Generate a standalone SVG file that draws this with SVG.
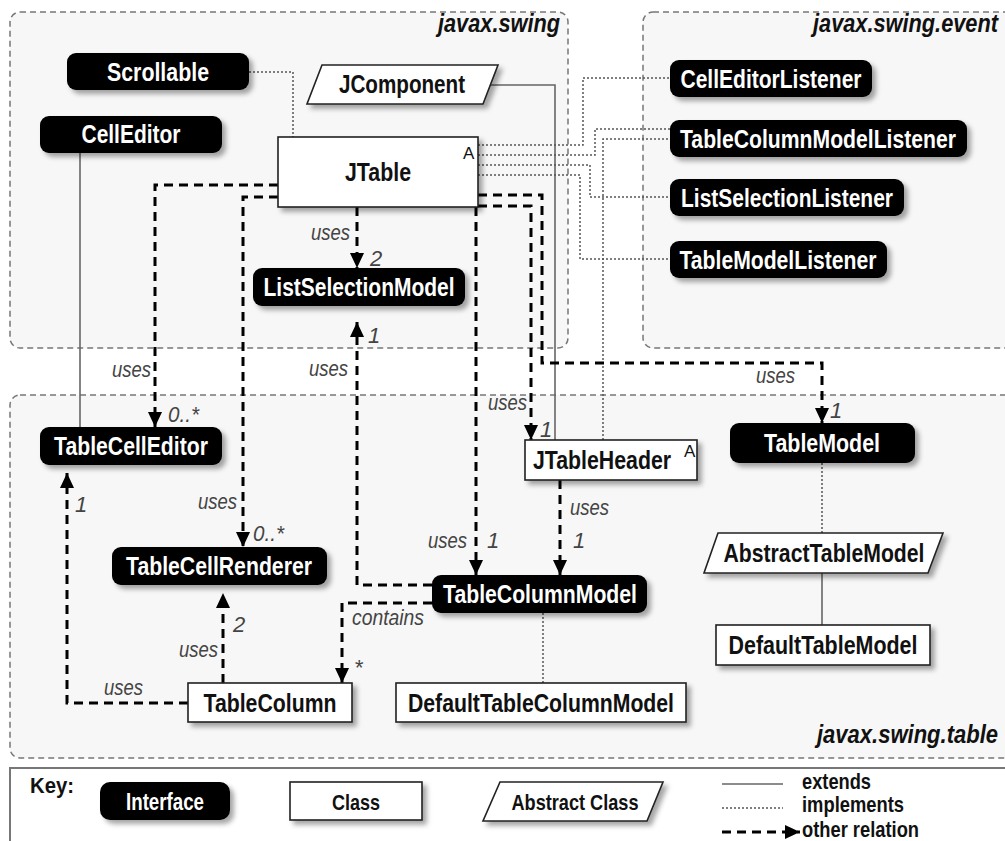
<svg xmlns="http://www.w3.org/2000/svg" width="1005" height="841" viewBox="0 0 1005 841">
  <defs>
    <filter id="shadow" x="-10%" y="-20%" width="130%" height="170%">
      <feDropShadow dx="4" dy="4" stdDeviation="2.5" flood-color="#000" flood-opacity="0.35"/>
    </filter>
    <marker id="arrow" markerUnits="userSpaceOnUse" markerWidth="16" markerHeight="14" viewBox="0 0 16 14" refX="15" refY="7" orient="auto">
      <path d="M0,0 L15,7 L0,14 z" fill="#000"/>
    </marker>
  </defs>
  <style>
    text { font-family: "Liberation Sans", Arial, sans-serif; }
    .pkg { fill: #f7f7f7; stroke: #777; stroke-width: 1.5; stroke-dasharray: 6 4; }
    .pkglabel { font-size: 26px; font-weight: bold; font-style: italic; fill: #111; text-anchor: end; }
    .ifc .box { fill: #000; filter: url(#shadow); }
    .cls .box, .abs .box { fill: #fff; stroke: #222; stroke-width: 1.6; filter: url(#shadow); }
    .name { font-size: 25px; font-weight: bold; text-anchor: middle; }
    .ifc .name { fill: #fff; }
    .cls .name, .abs .name { fill: #111; }
    .sup { font-size: 17px; fill: #111; }
    .extends { fill: none; stroke: #666; stroke-width: 1.6; }
    .implements { fill: none; stroke: #555; stroke-width: 1.5; stroke-dasharray: 2 2; }
    .relation { fill: none; stroke: #000; stroke-width: 3; stroke-dasharray: 9 6; marker-end: url(#arrow); }
    .lbl { font-size: 22px; font-style: italic; fill: #444; }
    .end { text-anchor: end; }
    .key { font-size: 22px; font-weight: bold; fill: #111; }
  </style>

  <rect width="1005" height="841" fill="#fff"/>

  <!-- packages -->
  <g id="packages">
    <rect class="pkg" x="10" y="12" width="558" height="336" rx="10"/>
    <text class="pkglabel" x="560" y="32" textLength="122" lengthAdjust="spacingAndGlyphs">javax.swing</text>
    <rect class="pkg" x="643" y="12" width="420" height="336" rx="10"/>
    <text class="pkglabel" x="998" y="32" textLength="185" lengthAdjust="spacingAndGlyphs">javax.swing.event</text>
    <rect class="pkg" x="10" y="395" width="1030" height="363" rx="10"/>
    <text class="pkglabel" x="998" y="743" textLength="181" lengthAdjust="spacingAndGlyphs">javax.swing.table</text>
  </g>

  <!-- connectors -->
  <g id="connectors">
    <!-- extends -->
    <path class="extends" d="M80,153 V427"/>
    <path class="extends" d="M490,85 H555 V440"/>
    <path class="extends" d="M822,573 V625"/>
    <!-- implements -->
    <path class="implements" d="M249,72 H293 V137"/>
    <path class="implements" d="M478,145 H583 V78 H670"/>
    <path class="implements" d="M478,155 H595 V129 H670"/>
    <path class="implements" d="M478,165 H590 V197 H670"/>
    <path class="implements" d="M478,175 H580 V259 H670"/>
    <path class="implements" d="M603,440 V139 H670"/>
    <path class="implements" d="M822,463 V533"/>
    <path class="implements" d="M543,613 V683"/>
    <!-- other relations -->
    <path class="relation" d="M278,185 H155 V427"/>
    <path class="relation" d="M278,197 H243 V547"/>
    <path class="relation" d="M357,207 V268"/>
    <path class="relation" d="M432,585 H357 V322"/>
    <path class="relation" d="M432,603 H342 V683"/>
    <path class="relation" d="M476,207 V575"/>
    <path class="relation" d="M478,206 H531 V440"/>
    <path class="relation" d="M478,195 H542 V363 H822 V423"/>
    <path class="relation" d="M560,480 V575"/>
    <path class="relation" d="M223,683 V593"/>
    <path class="relation" d="M188,703 H67 V473"/>
    <!-- labels -->
    <text class="lbl end" x="151" y="377" textLength="39" lengthAdjust="spacingAndGlyphs">uses</text>
    <text class="lbl" x="168" y="422" textLength="31" lengthAdjust="spacingAndGlyphs">0..*</text>
    <text class="lbl end" x="237" y="509" textLength="39" lengthAdjust="spacingAndGlyphs">uses</text>
    <text class="lbl" x="253" y="541" textLength="31" lengthAdjust="spacingAndGlyphs">0..*</text>
    <text class="lbl end" x="350" y="240" textLength="39" lengthAdjust="spacingAndGlyphs">uses</text>
    <text class="lbl" x="370" y="266">2</text>
    <text class="lbl" x="368" y="343">1</text>
    <text class="lbl end" x="348" y="376" textLength="39" lengthAdjust="spacingAndGlyphs">uses</text>
    <text class="lbl" x="352" y="625" textLength="72" lengthAdjust="spacingAndGlyphs">contains</text>
    <text class="lbl" x="354" y="675">*</text>
    <text class="lbl end" x="467" y="548" textLength="39" lengthAdjust="spacingAndGlyphs">uses</text>
    <text class="lbl" x="487" y="548">1</text>
    <text class="lbl end" x="527" y="410" textLength="39" lengthAdjust="spacingAndGlyphs">uses</text>
    <text class="lbl" x="540" y="437">1</text>
    <text class="lbl" x="570" y="515" textLength="39" lengthAdjust="spacingAndGlyphs">uses</text>
    <text class="lbl" x="573" y="548">1</text>
    <text class="lbl" x="233" y="632">2</text>
    <text class="lbl end" x="218" y="657" textLength="39" lengthAdjust="spacingAndGlyphs">uses</text>
    <text class="lbl" x="75" y="512">1</text>
    <text class="lbl end" x="143" y="695" textLength="39" lengthAdjust="spacingAndGlyphs">uses</text>
    <text class="lbl end" x="795" y="383" textLength="39" lengthAdjust="spacingAndGlyphs">uses</text>
    <text class="lbl" x="830" y="418">1</text>
  </g>

  <!-- javax.swing -->
  <g id="Scrollable" class="ifc">
    <rect class="box" x="67" y="53" width="182" height="37" rx="9"/>
    <text class="name" x="158" y="81" textLength="102" lengthAdjust="spacingAndGlyphs">Scrollable</text>
  </g>
  <g id="CellEditor" class="ifc">
    <rect class="box" x="40" y="116" width="182" height="37" rx="9"/>
    <text class="name" x="131" y="143" textLength="99" lengthAdjust="spacingAndGlyphs">CellEditor</text>
  </g>
  <g id="JComponent" class="abs">
    <polygon class="box" points="322,65 498,65 483,104 307,104"/>
    <text class="name" x="402" y="93" textLength="126" lengthAdjust="spacingAndGlyphs">JComponent</text>
  </g>
  <g id="JTable" class="cls">
    <rect class="box" x="278" y="137" width="200" height="70"/>
    <text class="name" x="378" y="181" textLength="66" lengthAdjust="spacingAndGlyphs">JTable</text>
    <text class="sup" x="463" y="159">A</text>
  </g>
  <g id="ListSelectionModel" class="ifc">
    <rect class="box" x="253" y="268" width="212" height="38" rx="9"/>
    <text class="name" x="359" y="296" textLength="191" lengthAdjust="spacingAndGlyphs">ListSelectionModel</text>
  </g>

  <!-- javax.swing.event -->
  <g id="CellEditorListener" class="ifc">
    <rect class="box" x="670" y="60" width="202" height="37" rx="9"/>
    <text class="name" x="771" y="88" textLength="181" lengthAdjust="spacingAndGlyphs">CellEditorListener</text>
  </g>
  <g id="TableColumnModelListener" class="ifc">
    <rect class="box" x="670" y="120" width="297" height="37" rx="9"/>
    <text class="name" x="818" y="148" textLength="276" lengthAdjust="spacingAndGlyphs">TableColumnModelListener</text>
  </g>
  <g id="ListSelectionListener" class="ifc">
    <rect class="box" x="670" y="179" width="234" height="37" rx="9"/>
    <text class="name" x="787" y="207" textLength="212" lengthAdjust="spacingAndGlyphs">ListSelectionListener</text>
  </g>
  <g id="TableModelListener" class="ifc">
    <rect class="box" x="670" y="241" width="217" height="37" rx="9"/>
    <text class="name" x="778" y="269" textLength="197" lengthAdjust="spacingAndGlyphs">TableModelListener</text>
  </g>

  <!-- javax.swing.table -->
  <g id="TableCellEditor" class="ifc">
    <rect class="box" x="40" y="427" width="182" height="38" rx="9"/>
    <text class="name" x="131" y="455" textLength="154" lengthAdjust="spacingAndGlyphs">TableCellEditor</text>
  </g>
  <g id="TableCellRenderer" class="ifc">
    <rect class="box" x="112" y="547" width="215" height="38" rx="9"/>
    <text class="name" x="219" y="575" textLength="186" lengthAdjust="spacingAndGlyphs">TableCellRenderer</text>
  </g>
  <g id="TableColumn" class="cls">
    <rect class="box" x="188" y="683" width="164" height="39"/>
    <text class="name" x="270" y="712" textLength="133" lengthAdjust="spacingAndGlyphs">TableColumn</text>
  </g>
  <g id="TableColumnModel" class="ifc">
    <rect class="box" x="432" y="575" width="215" height="38" rx="9"/>
    <text class="name" x="540" y="603" textLength="194" lengthAdjust="spacingAndGlyphs">TableColumnModel</text>
  </g>
  <g id="DefaultTableColumnModel" class="cls">
    <rect class="box" x="396" y="683" width="290" height="39"/>
    <text class="name" x="541" y="712" textLength="266" lengthAdjust="spacingAndGlyphs">DefaultTableColumnModel</text>
  </g>
  <g id="JTableHeader" class="cls">
    <rect class="box" x="525" y="440" width="172" height="40"/>
    <text class="name" x="602" y="469" textLength="138" lengthAdjust="spacingAndGlyphs">JTableHeader</text>
    <text class="sup" x="684" y="457" font-size="16">A</text>
  </g>
  <g id="TableModel" class="ifc">
    <rect class="box" x="730" y="423" width="185" height="40" rx="9"/>
    <text class="name" x="822" y="452" textLength="116" lengthAdjust="spacingAndGlyphs">TableModel</text>
  </g>
  <g id="AbstractTableModel" class="abs">
    <polygon class="box" points="718,533 943,533 928,573 704,573"/>
    <text class="name" x="824" y="562" textLength="201" lengthAdjust="spacingAndGlyphs">AbstractTableModel</text>
  </g>
  <g id="DefaultTableModel" class="cls">
    <rect class="box" x="716" y="625" width="214" height="40"/>
    <text class="name" x="823" y="654" textLength="189" lengthAdjust="spacingAndGlyphs">DefaultTableModel</text>
  </g>

  <!-- key -->
  <g id="key">
    <rect x="10" y="768" width="1030" height="90" fill="#fff" stroke="#777" stroke-width="2"/>
    <text class="key" x="30" y="793" font-size="24" textLength="44" lengthAdjust="spacingAndGlyphs">Key:</text>
    <g class="ifc">
      <rect class="box" x="100" y="782" width="130" height="38" rx="10"/>
      <text class="name" x="165" y="810" style="font-size:23px" textLength="78" lengthAdjust="spacingAndGlyphs">Interface</text>
    </g>
    <g class="cls">
      <rect class="box" x="290" y="782" width="132" height="38"/>
      <text class="name" x="356" y="810" style="font-size:22px" textLength="48" lengthAdjust="spacingAndGlyphs">Class</text>
    </g>
    <g class="abs">
      <polygon class="box" points="500,782 663,782 647,821 483,821"/>
      <text class="name" x="575" y="810" style="font-size:22px" textLength="127" lengthAdjust="spacingAndGlyphs">Abstract Class</text>
    </g>
    <path class="extends" d="M722,784 H783"/>
    <path class="implements" d="M722,808 H783"/>
    <path class="relation" d="M722,832 H800"/>
    <text class="key" x="802" y="789" font-size="20" textLength="69" lengthAdjust="spacingAndGlyphs">extends</text>
    <text class="key" x="802" y="812" font-size="20" textLength="102" lengthAdjust="spacingAndGlyphs">implements</text>
    <text class="key" x="802" y="837" font-size="20" textLength="117" lengthAdjust="spacingAndGlyphs">other relation</text>
  </g>
</svg>
